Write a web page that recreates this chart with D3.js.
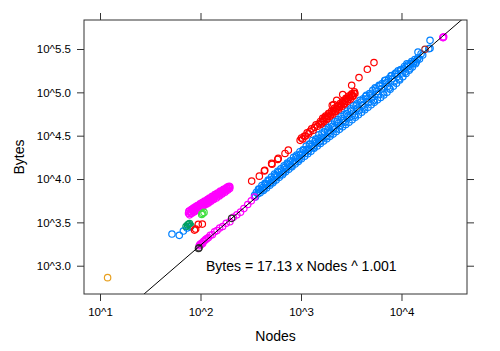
<!DOCTYPE html>
<html><head><meta charset="utf-8">
<script src="https://cdn.jsdelivr.net/npm/d3@7/dist/d3.min.js"></script>
<style>body{margin:0;background:#fff}svg{display:block;font-family:"Liberation Sans",Arial,Helvetica,sans-serif}</style>
</head><body><svg id="c" width="500" height="351"></svg>
<script>
// ---- data: [nodes, bytes] ----
const blue = [[52,2318],[61.5,2239],[67.5,2512],[73.5,2718],[78.7,2791],
[345,6486],[360,7020],[372,6770],[385,7623],[400,7400],[415,7968],[430,7697],[446,8742],[462,8501],[480,9552],
[498,9014],[516,9959],[535,9523],[555,10934],[576,10714],[597,12059],[619,11142],[642,12455],[666,11722],[690,13662],
[716,13103],[742,14840],[770,14553],[798,14125],[828,16146],[858,15616],[890,18067],[923,17352],[957,16748],[992,19443],
[1029,18934],[1067,21447],[1106,19797],[1147,22022],[1189,21402],[1233,25153],[1279,23789],[1326,23072],[1375,27088],[1426,26096],
[1478,29560],[1533,26981],[1590,30369],[1648,29994],[1709,35035],[1772,30656],[1838,35657],[1906,34308],[1976,33394],[2049,40570],
[2125,39100],[2203,37892],[2285,46157],[2369,44300],[2457,41278],[2548,49686],[2642,47292],[2740,45210],[2841,56820],[2946,53617],
[3055,51630],[3168,61142],[3285,57488],[3407,54171],[3533,71013],[3663,65934],[3799,62304],[3939,77204],[4085,70671],[4236,66082],
[4393,89617],[4555,84268],[4724,76529],[4899,93081],[5080,86360],[5268,80074],[5463,112538],[5665,102537],[5875,94000],[6092,118185],
[6318,109933],[6551,98265],[6794,137239],[7045,128924],[7306,117627],[7576,112125],[7857,154783],[8148,143405],[8449,132649],[8762,166478],
[9086,152645],[9422,142272],[9771,181741],[10133,167195],[10508,187042],[10897,172173],[11300,213570],[11719,198051],[12152,187141],[12602,226836],
[13069,214332],[13552,238515],[14054,223459],[14574,249215],[15114,241824],[15673,278979],[16253,269800],[14590,291700],
[352,6195],[378,7673],[392,6938],[408,8405],[422,7385],[438,8935],[454,7900],[471,9750],[489,8460],[507,10546],
[525,9030],[545,11390],[565,9775],[586,12306],[608,10458],[630,13104],[654,11183],[678,14170],[703,12092],[729,15309],
[756,12928],[784,16229],[813,13821],[843,17787],[874,14945],[906,18935],[940,15886],[975,20670],[1010,17170],[1048,21798],
[1087,18370],[1127,24005],[1168,19622],[1211,25310],[1256,20975],[1302,27863],[1350,22680],[1400,28840],[1452,24103],[1505,32358],
[1561,25757],[1619,33999],[1679,27368],[1741,37606],[1805,29241],[1872,39125],[1941,31056],[2012,43057],[2087,32975],[2164,45877],
[2244,35231],[2327,48402],[2413,37402],[2502,52542],[2595,39963],[2691,55435],[2790,42687],[2893,61042],[3000,45300],[3111,64398],
[3226,48390],[3345,70245],[3469,51688],[3597,73739],[3730,55204],[3868,80841],[4011,58962],[4160,84448],[4313,62970],[4473,92144],
[4638,67251],[4810,96681],[4988,71827],[5172,105509],[5364,76705],[5562,110128],[5768,81906],[5981,120218],[6202,87448],[6432,126067],
[6670,93380],[6916,137628],[7172,100408],[7437,143534],[7712,108739],[7997,155942],[8293,117761],[8600,162540],[8918,127527],[9248,177562],
[9590,139055],[9945,182988],[10313,151601],[10694,198908],[11090,165241],[11500,205850],[11925,180068],[12366,215168],[12824,196207],[13298,224736],
[13790,213745],[14300,237380],
[19230,398000],[19230,322000],[18700,318000]];
const magenta = [
[76,4032],[77,4280],[78,3860],[80,4187],[81,4450],[82,4020],[84,4338],[85,4620],[86,4160],[88,4493],[89,4780],[90,4300],
[92,4644],[93,4930],[95,4757],[96,4480],[98,4863],[99,5180],[100,4690],[103,5049],[104,5350],[106,5152],[107,4880],[109,5259],
[110,5580],[112,5368],[114,5110],[115,5479],[117,5800],[118,5583],[120,5300],[121,5689],[123,6030],[125,5826],[127,5540],[129,5967],
[131,6330],[133,6100],[135,5800],[137,6237],[139,6600],[141,6366],[144,6060],[146,6530],[148,6900],[151,6699],[154,6380],[156,6861],
[158,7250],[161,7026],[164,6700],[166,7184],[169,7560],[172,7376],[175,7050],[178,7561],[181,7930],[184,7751],[187,7450],[190,7942],
[193,8250],[196,8120],
[77,4240],[80,4020],[83,4470],[87,4280],[91,4790],[95,4570],[99,5100],[104,4890],[109,5470],[114,5220],[119,5840],[124,5560],
[130,6240],[136,5950],[142,6660],[149,6360],[156,7140],[163,6810],[171,7630],[179,7290],[187,8160],[195,7770],
[97,1700],[99,1760],[101,1750],[103,1830],[105,1800],[107,1900],[110,1950],[113,2010],[116,2060],[120,2110],[125,2250],[131,2280],
[138,2460],[146,2540],[155,2720],[166,2830],[180,3090],[196,3220],[212,3620],[230,3860],[250,4150],[270,4560],[295,5080],[320,5600],[345,6200],
[25800,430000],[26300,438000],[26000,428000]];
const darkgreen = [[74.3,2944],[77.8,3063],[71.8,2831],[80.4,2864],[76,3000]];
const red = [[87.1,2576],[89.5,2649],[95.1,2999],[104.3,3020],
[323,9462],[385,10800],[432,12415],[436,12600],[510,15140],[515,14800],[586,16830],[594,17300],[693,19720],[748,21530],
[980,27930],[1010,29795],[1040,28912],[1075,31175],[1110,31302],[1150,34040],[1190,33201],[1230,35424],[1275,37995],[1320,36432],
[1365,39449],[1410,42159],[1460,40588],[1510,43337],[1560,46176],[1615,44736],[1670,47762],[1725,51233],[1785,49802],[1845,53136],
[1910,56918],[1975,54708],[2040,58344],[2110,62456],[2180,60604],[2255,64719],[2330,69201],[2410,67239],[2490,71712],[2575,76735],
[2660,73948],[2750,78650],[2845,84212],[2940,82026],[3040,87248],[3145,92778],[3250,91000],[3360,97104],[3440,97008],
[1587,42849],[1642,50081],[1697,45989],[1755,53177],[1815,49005],[1877,57061],[1942,52822],[2007,60611],[2075,56025],[2145,65423],
[2217,60081],[2292,69448],[2370,63990],[2450,74480],[2532,68870],[2617,79033],[2705,73035],[2797,85309],[2892,78373],[2990,90597],
[3092,83484],[3197,95910],[3305,89896],[3400,101320],
[2046,70960],[2120,72500],[2264,81100],[2600,94350],[3193,120800],[3776,148000],[4571,184400],[5324,220400]];
const orange = [[11.9,728]];
const lightgreen = [[102.8,3908],[108.4,4121],[105,4000]];
const brown = [[17140,313500]];
const black = [[96.6,1611],[95.5,1580],[204,3516]];
const fitCoef = 17.13, fitExp = 1.001;
const xTicks = [10,100,1000,10000];
const xTickLabels = ["10^1","10^2","10^3","10^4"];
const yTicks = [1000,3162.28,10000,31622.8,100000,316228];
const yTickLabels = ["10^3.0","10^3.5","10^4.0","10^4.5","10^5.0","10^5.5"];
const groups = [
  {data: blue, color: "#0080ff"},
  {data: magenta, color: "#ff00ff"},
  {data: darkgreen, color: "#00a060"},
  {data: red, color: "#ff0000"},
  {data: orange, color: "#e8a020"},
  {data: lightgreen, color: "#40e040"},
  {data: brown, color: "#a02828"},
  {data: black, color: "#303030"}
];

const L=84, R=467, T=20, B=294;
const svg = d3.select("#c");
const x = d3.scaleLog().domain([6.93, 44850]).range([L, R]);
const y = d3.scaleLog().domain([471.6, 683300]).range([B, T]);

const fmtX = d => xTickLabels[xTicks.indexOf(d)];
const fmtY = d => yTickLabels[yTicks.indexOf(d)];
function styleAxis(g){ g.select(".domain").remove(); g.selectAll("line").attr("stroke","#333");
  g.selectAll("text").attr("fill","#000").style("font-size","11.5px").style("font-family","'Liberation Sans',Arial,sans-serif"); }
svg.append("g").attr("transform",`translate(0,${B})`).call(d3.axisBottom(x).tickValues(xTicks).tickFormat(fmtX).tickSize(7).tickPadding(7)).call(styleAxis);
svg.append("g").attr("transform",`translate(0,${T})`).call(d3.axisTop(x).tickValues(xTicks).tickFormat("").tickSize(7)).call(styleAxis);
svg.append("g").attr("transform",`translate(${L},0)`).call(d3.axisLeft(y).tickValues(yTicks).tickFormat(fmtY).tickSize(7).tickPadding(6)).call(styleAxis);
svg.append("g").attr("transform",`translate(${R},0)`).call(d3.axisRight(y).tickValues(yTicks).tickFormat("").tickSize(7)).call(styleAxis);

svg.append("clipPath").attr("id","clip").append("rect").attr("x",L).attr("y",T).attr("width",R-L).attr("height",B-T);
const pg = svg.append("g").attr("clip-path","url(#clip)");
groups.forEach(gr=>{
  pg.append("g").selectAll("circle").data(gr.data).join("circle")
    .attr("cx",d=>x(d[0])).attr("cy",d=>y(d[1])).attr("r",3.2)
    .attr("fill","none").attr("stroke",gr.color).attr("stroke-width",1.2);
});
// fitted line
const xs = [x.domain()[0], x.domain()[1]];
pg.append("line").attr("x1",x(xs[0])).attr("y1",y(fitCoef*Math.pow(xs[0],fitExp)))
  .attr("x2",x(xs[1])).attr("y2",y(fitCoef*Math.pow(xs[1],fitExp))).attr("stroke","#000").attr("stroke-width",1);

svg.append("rect").attr("x",L).attr("y",T).attr("width",R-L).attr("height",B-T).attr("fill","none").attr("stroke","#333");

svg.append("text").attr("x",206).attr("y",270.7).style("font-size","14px").text("Bytes = 17.13 x Nodes ^ 1.001");
svg.append("text").attr("x",(L+R)/2).attr("y",340.5).attr("text-anchor","middle").style("font-size","14px").text("Nodes");
svg.append("text").attr("transform",`translate(24,${(T+B)/2}) rotate(-90)`).attr("text-anchor","middle").style("font-size","14px").text("Bytes");
</script></body></html>
